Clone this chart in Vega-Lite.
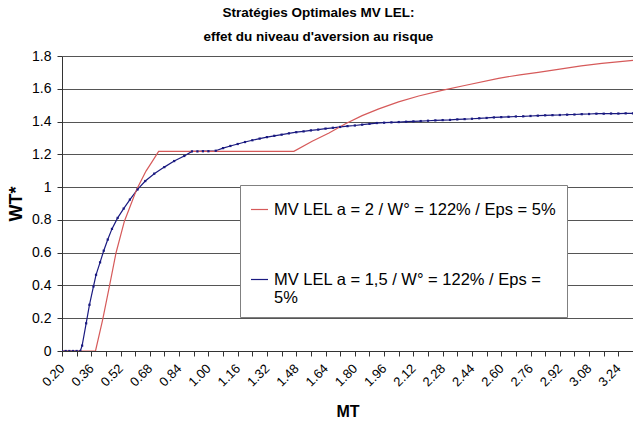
{
  "$schema": "https://vega.github.io/schema/vega-lite/v6.json",
  "width": 571,
  "height": 295,
  "autosize": "none",
  "padding": {"left": 62, "top": 56, "right": 0, "bottom": 76},
  "background": "white",
  "config": {
    "font": "Liberation Sans",
    "view": {"stroke": null}
  },
  "title": {
    "text": ["Stratégies Optimales MV LEL:", "effet du niveau d'aversion au risque"],
    "font": "Liberation Sans",
    "fontSize": 13.5,
    "fontWeight": "bold",
    "color": "black",
    "lineHeight": 24,
    "anchor": "middle",
    "dx": -29,
    "offset": 6
  },
  "data": {
    "values": [
      {"MT": 0.20, "WT": 0, "s": "b"},
      {"MT": 0.22, "WT": 0, "s": "b"},
      {"MT": 0.24, "WT": 0, "s": "b"},
      {"MT": 0.26, "WT": 0, "s": "b"},
      {"MT": 0.28, "WT": 0, "s": "b"},
      {"MT": 0.30, "WT": 0, "s": "b"},
      {"MT": 0.31, "WT": 0.033, "s": "b"},
      {"MT": 0.332, "WT": 0.169, "s": "b"},
      {"MT": 0.35, "WT": 0.282, "s": "b"},
      {"MT": 0.372, "WT": 0.394, "s": "b"},
      {"MT": 0.386, "WT": 0.465, "s": "b"},
      {"MT": 0.408, "WT": 0.541, "s": "b"},
      {"MT": 0.428, "WT": 0.612, "s": "b"},
      {"MT": 0.45, "WT": 0.68, "s": "b"},
      {"MT": 0.473, "WT": 0.745, "s": "b"},
      {"MT": 0.504, "WT": 0.812, "s": "b"},
      {"MT": 0.537, "WT": 0.869, "s": "b"},
      {"MT": 0.571, "WT": 0.924, "s": "b"},
      {"MT": 0.613, "WT": 0.986, "s": "b"},
      {"MT": 0.655, "WT": 1.037, "s": "b"},
      {"MT": 0.704, "WT": 1.082, "s": "b"},
      {"MT": 0.759, "WT": 1.122, "s": "b"},
      {"MT": 0.813, "WT": 1.159, "s": "b"},
      {"MT": 0.868, "WT": 1.19, "s": "b"},
      {"MT": 0.91, "WT": 1.218, "s": "b"},
      {"MT": 0.94, "WT": 1.218, "s": "b"},
      {"MT": 0.97, "WT": 1.219, "s": "b"},
      {"MT": 1.00, "WT": 1.219, "s": "b"},
      {"MT": 1.04, "WT": 1.222, "s": "b"},
      {"MT": 1.08, "WT": 1.238, "s": "b"},
      {"MT": 1.12, "WT": 1.251, "s": "b"},
      {"MT": 1.16, "WT": 1.263, "s": "b"},
      {"MT": 1.20, "WT": 1.275, "s": "b"},
      {"MT": 1.24, "WT": 1.286, "s": "b"},
      {"MT": 1.28, "WT": 1.296, "s": "b"},
      {"MT": 1.32, "WT": 1.305, "s": "b"},
      {"MT": 1.36, "WT": 1.313, "s": "b"},
      {"MT": 1.40, "WT": 1.320, "s": "b"},
      {"MT": 1.44, "WT": 1.328, "s": "b"},
      {"MT": 1.48, "WT": 1.335, "s": "b"},
      {"MT": 1.52, "WT": 1.340, "s": "b"},
      {"MT": 1.56, "WT": 1.346, "s": "b"},
      {"MT": 1.60, "WT": 1.351, "s": "b"},
      {"MT": 1.64, "WT": 1.357, "s": "b"},
      {"MT": 1.68, "WT": 1.362, "s": "b"},
      {"MT": 1.72, "WT": 1.367, "s": "b"},
      {"MT": 1.76, "WT": 1.372, "s": "b"},
      {"MT": 1.80, "WT": 1.376, "s": "b"},
      {"MT": 1.84, "WT": 1.381, "s": "b"},
      {"MT": 1.88, "WT": 1.386, "s": "b"},
      {"MT": 1.92, "WT": 1.391, "s": "b"},
      {"MT": 1.96, "WT": 1.393, "s": "b"},
      {"MT": 2.00, "WT": 1.395, "s": "b"},
      {"MT": 2.04, "WT": 1.397, "s": "b"},
      {"MT": 2.08, "WT": 1.399, "s": "b"},
      {"MT": 2.12, "WT": 1.401, "s": "b"},
      {"MT": 2.16, "WT": 1.403, "s": "b"},
      {"MT": 2.20, "WT": 1.405, "s": "b"},
      {"MT": 2.24, "WT": 1.407, "s": "b"},
      {"MT": 2.28, "WT": 1.409, "s": "b"},
      {"MT": 2.32, "WT": 1.410, "s": "b"},
      {"MT": 2.36, "WT": 1.413, "s": "b"},
      {"MT": 2.40, "WT": 1.415, "s": "b"},
      {"MT": 2.44, "WT": 1.417, "s": "b"},
      {"MT": 2.48, "WT": 1.420, "s": "b"},
      {"MT": 2.52, "WT": 1.422, "s": "b"},
      {"MT": 2.56, "WT": 1.425, "s": "b"},
      {"MT": 2.60, "WT": 1.427, "s": "b"},
      {"MT": 2.64, "WT": 1.429, "s": "b"},
      {"MT": 2.68, "WT": 1.431, "s": "b"},
      {"MT": 2.72, "WT": 1.432, "s": "b"},
      {"MT": 2.76, "WT": 1.434, "s": "b"},
      {"MT": 2.80, "WT": 1.436, "s": "b"},
      {"MT": 2.84, "WT": 1.438, "s": "b"},
      {"MT": 2.88, "WT": 1.439, "s": "b"},
      {"MT": 2.92, "WT": 1.440, "s": "b"},
      {"MT": 2.96, "WT": 1.442, "s": "b"},
      {"MT": 3.00, "WT": 1.443, "s": "b"},
      {"MT": 3.04, "WT": 1.445, "s": "b"},
      {"MT": 3.08, "WT": 1.446, "s": "b"},
      {"MT": 3.12, "WT": 1.448, "s": "b"},
      {"MT": 3.16, "WT": 1.448, "s": "b"},
      {"MT": 3.20, "WT": 1.449, "s": "b"},
      {"MT": 3.24, "WT": 1.449, "s": "b"},
      {"MT": 3.28, "WT": 1.450, "s": "b"},
      {"MT": 3.32, "WT": 1.450, "s": "b"},
      {"MT": 0.20, "WT": 0, "s": "r"},
      {"MT": 0.383, "WT": 0, "s": "r"},
      {"MT": 0.422, "WT": 0.19, "s": "r"},
      {"MT": 0.459, "WT": 0.394, "s": "r"},
      {"MT": 0.495, "WT": 0.598, "s": "r"},
      {"MT": 0.541, "WT": 0.792, "s": "r"},
      {"MT": 0.57, "WT": 0.876, "s": "r"},
      {"MT": 0.608, "WT": 0.986, "s": "r"},
      {"MT": 0.659, "WT": 1.098, "s": "r"},
      {"MT": 0.69, "WT": 1.151, "s": "r"},
      {"MT": 0.728, "WT": 1.218, "s": "r"},
      {"MT": 1.467, "WT": 1.218, "s": "r"},
      {"MT": 1.567, "WT": 1.28, "s": "r"},
      {"MT": 1.659, "WT": 1.33, "s": "r"},
      {"MT": 1.749, "WT": 1.387, "s": "r"},
      {"MT": 1.84, "WT": 1.436, "s": "r"},
      {"MT": 1.931, "WT": 1.477, "s": "r"},
      {"MT": 2.039, "WT": 1.52, "s": "r"},
      {"MT": 2.149, "WT": 1.556, "s": "r"},
      {"MT": 2.276, "WT": 1.59, "s": "r"},
      {"MT": 2.40, "WT": 1.62, "s": "r"},
      {"MT": 2.585, "WT": 1.664, "s": "r"},
      {"MT": 2.702, "WT": 1.685, "s": "r"},
      {"MT": 2.802, "WT": 1.70, "s": "r"},
      {"MT": 2.92, "WT": 1.72, "s": "r"},
      {"MT": 3.037, "WT": 1.74, "s": "r"},
      {"MT": 3.15, "WT": 1.755, "s": "r"},
      {"MT": 3.32, "WT": 1.773, "s": "r"}
    ]
  },
  "encoding": {
    "x": {
      "field": "MT",
      "type": "quantitative",
      "scale": {"domain": [0.2, 3.32], "nice": false, "zero": false},
      "axis": {
        "title": "MT",
        "titleFont": "Liberation Sans",
        "titleFontSize": 16,
        "titleFontWeight": "bold",
        "titleColor": "black",
        "titlePadding": 15,
        "values": [0.20, 0.28, 0.36, 0.44, 0.52, 0.60, 0.68, 0.76, 0.84, 0.92, 1.00, 1.08, 1.16, 1.24, 1.32, 1.40, 1.48, 1.56, 1.64, 1.72, 1.80, 1.88, 1.96, 2.04, 2.12, 2.20, 2.28, 2.36, 2.44, 2.52, 2.60, 2.68, 2.76, 2.84, 2.92, 3.00, 3.08, 3.16, 3.24, 3.32],
        "labelExpr": "(round(datum.value*100) - 20) % 16 == 0 ? format(datum.value, '.2f') : ''",
        "labelAngle": -45,
        "labelAlign": "right",
        "labelBaseline": "middle",
        "labelFont": "Liberation Sans",
        "labelFontSize": 13,
        "labelColor": "black",
        "labelPadding": 10,
        "labelOverlap": false,
        "labelFlush": false,
        "grid": false,
        "domainColor": "#333333",
        "tickColor": "#333333",
        "tickSize": 5
      }
    },
    "y": {
      "field": "WT",
      "type": "quantitative",
      "scale": {"domain": [0, 1.8], "nice": false},
      "axis": {
        "title": "WT*",
        "titleFont": "Liberation Sans",
        "titleFontSize": 18,
        "titleFontWeight": "bold",
        "titleColor": "black",
        "titlePadding": 6,
        "values": [0, 0.2, 0.4, 0.6, 0.8, 1, 1.2, 1.4, 1.6, 1.8],
        "format": ".1~f",
        "labelFont": "Liberation Sans",
        "labelFontSize": 14,
        "labelColor": "black",
        "labelPadding": 6,
        "grid": true,
        "gridColor": "#555555",
        "gridWidth": 1,
        "domainColor": "#333333",
        "tickColor": "#333333",
        "tickSize": 5
      }
    }
  },
  "layer": [
    {
      "mark": {"type": "line", "strokeWidth": 1.2, "clip": true},
      "encoding": {
        "color": {
          "field": "s",
          "type": "nominal",
          "scale": {"domain": ["r", "b"], "range": ["#d65a5a", "#1a1a80"]},
          "legend": {
            "title": " ",
            "titleFontSize": 3,
            "titlePadding": 2,
            "orient": "none",
            "legendX": 178,
            "legendY": 129,
            "direction": "vertical",
            "fillColor": "white",
            "strokeColor": "#808080",
            "padding": 10,
            "symbolType": "stroke",
            "symbolSize": 289,
            "symbolStrokeWidth": 1.2,
            "labelFont": "Liberation Sans",
            "labelFontSize": 16.5,
            "labelColor": "black",
            "labelLimit": 400,
            "labelOffset": 5,
            "rowPadding": 52,
            "labelExpr": "datum.value == 'r' ? 'MV LEL a = 2 / W° = 122% / Eps = 5%' : ['MV LEL a = 1,5 / W° = 122% / Eps =', '5%']"
          }
        }
      }
    },
    {
      "transform": [{"filter": "datum.s == 'b'"}],
      "mark": {"type": "point", "shape": "square", "filled": true, "size": 5, "color": "#1a1a80", "opacity": 1, "clip": true},
      "encoding": {}
    }
  ]
}
